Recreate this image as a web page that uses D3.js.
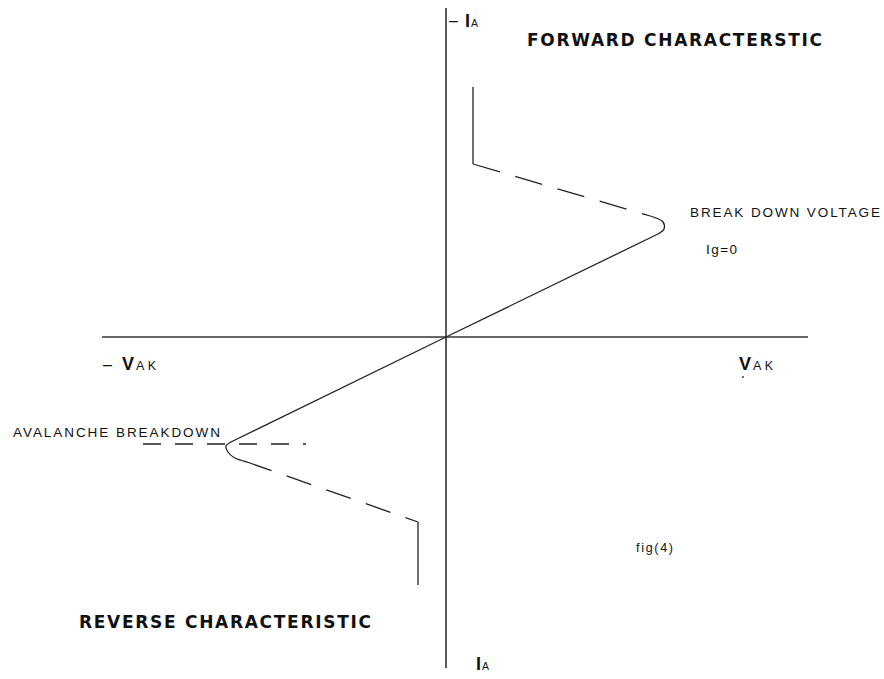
<!DOCTYPE html>
<html><head><meta charset="utf-8">
<script src="https://cdn.jsdelivr.net/npm/d3@7"></script>
<style>body{margin:0;background:#fff}svg{display:block}text{font-family:"Liberation Sans",Arial,sans-serif;fill:#111}</style>
</head><body>
<script>
// Data (V in arbitrary volts, I in arbitrary amps)
const axisV = [-17.2, 18.1];
const axisI = [-33.1, 32.9];
const fwdVertical = [[1.35, 25.0], [1.35, 17.3]];
const fwdDashed = [[1.35, 17.3], [10.3, 12.05]];
const fwdNose = [[10.3, 12.05], [10.85, 11.5], [10.9, 10.8], [10.6, 10.3], [0, 0]];
const revSolid = [[0, 0], [-10.55, -10.3], [-11.0, -10.9], [-10.9, -11.5], [-10.6, -12.05], [-9.95, -12.5]];
const revDashed = [[-9.95, -12.5], [-1.4, -18.5]];
const revVertical = [[-1.4, -18.5], [-1.4, -24.8]];
const avalancheLine = [[-15.15, -10.7], [-7.0, -10.7]];

const W = 884, H = 679;
const svg = d3.select("body").append("svg").attr("width", W).attr("height", H);
const x = d3.scaleLinear().domain(axisV).range([102, 808]);
const y = d3.scaleLinear().domain(axisI).range([668, 8]);

// axes
svg.append("line").attr("x1", x(axisV[0])).attr("x2", x(axisV[1])).attr("y1", y(0)).attr("y2", y(0))
  .attr("stroke", "#333").attr("stroke-width", 1.6);
svg.append("line").attr("x1", x(0)).attr("x2", x(0)).attr("y1", y(axisI[0])).attr("y2", y(axisI[1]))
  .attr("stroke", "#333").attr("stroke-width", 1.6);

const lin = d3.line().x(d => x(d[0])).y(d => y(d[1]));
const cur = d3.line().x(d => x(d[0])).y(d => y(d[1])).curve(d3.curveCatmullRom.alpha(0.5));

function path(data, gen, dash) {
  const p = svg.append("path").attr("d", gen(data)).attr("fill", "none")
    .attr("stroke", "#222").attr("stroke-width", 1.3);
  if (dash) p.attr("stroke-dasharray", dash);
  return p;
}
path(fwdVertical, lin);
path(fwdDashed, lin, "28,16");
path([fwdNose[0], fwdNose[1], fwdNose[2], fwdNose[3]], cur);
path([fwdNose[3], fwdNose[4]], lin);
path([revSolid[0], revSolid[1]], lin);
path(revSolid.slice(1), cur);
path(revDashed, lin, "26,16");
path(revVertical, lin);
path(avalancheLine, lin, "18,14").attr("stroke-width", 1.4);

// small dot under V_AK
svg.append("circle").attr("cx", 743).attr("cy", 377).attr("r", 0.9).attr("fill", "#333");

// texts
function txt(xp, yp, s, size, weight, len, fam) {
  const t = svg.append("text").attr("x", xp).attr("y", yp).attr("font-size", size)
    .attr("font-weight", weight || "normal").text(s);
  if (len) t.attr("textLength", len).attr("lengthAdjust", "spacing");
  if (fam) t.style("font-family", fam);
  return t;
}
const bold = '"DejaVu Sans",sans-serif';
// top I_A
txt(449, 26, "–", 16);
txt(465, 27, "I", 18, "bold");
txt(471, 27, "A", 10.5, "normal", 7);
txt(527, 46, "FORWARD CHARACTERSTIC", 17, "bold", 295, bold);
txt(690, 217, "BREAK DOWN VOLTAGE", 13.5, "normal", 190);
txt(706, 254, "Ig=0", 13.5, "normal", 31);
// -V_AK
txt(103, 370, "–", 16);
txt(122, 370, "V", 18, "bold");
txt(136, 370, "AK", 12.5, "normal", 20);
// V_AK
txt(739, 370, "V", 18, "bold");
txt(753, 370, "AK", 12.5, "normal", 20);
txt(13, 437, "AVALANCHE BREAKDOWN", 13.5, "normal", 207);
txt(636, 552, "fig(4)", 12.5, "normal", 37);
txt(79, 628, "REVERSE CHARACTERISTIC", 17, "bold", 292, bold);
// bottom I_A
txt(476, 670, "I", 18, "bold");
txt(482, 670, "A", 10.5, "normal", 7);
</script>
</body></html>
